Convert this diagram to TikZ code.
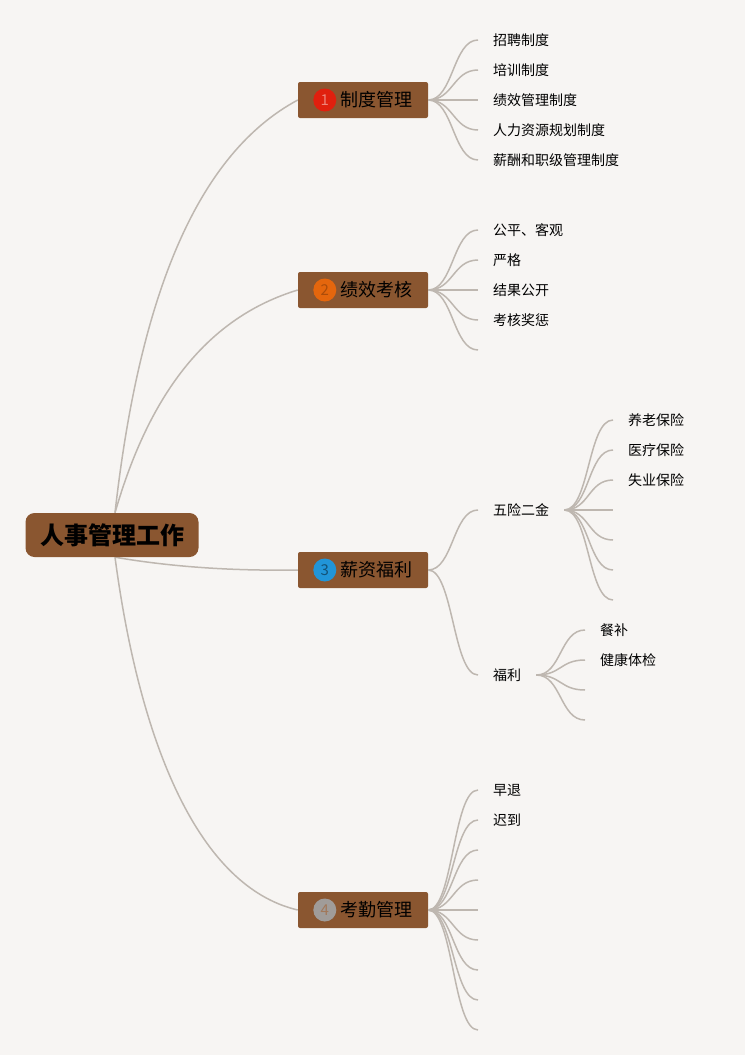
\documentclass[tikz,border=0pt]{standalone}
\usepackage{fontspec}
\setmainfont{Noto Sans CJK SC}
\usepackage{xcolor}
\usetikzlibrary{positioning}
\definecolor{paper}{HTML}{F7F5F3}
\definecolor{boxbrown}{HTML}{8A5630}
\definecolor{linkgray}{HTML}{BEB7B0}
\definecolor{numred}{HTML}{E0200E}
\definecolor{numorange}{HTML}{E4660D}
\definecolor{numblue}{HTML}{2195D8}
\definecolor{numgray}{HTML}{A09C99}
\pgfdeclarelayer{back}
\pgfsetlayers{back,main}

\begin{document}
\begin{tikzpicture}[x=1pt,y=-1pt,
  rootbox/.style={fill=boxbrown, rounded corners=9pt, minimum width=173pt, minimum height=44pt, inner sep=0pt, font=\fontsize{24}{26}\selectfont\bfseries},
  topicbox/.style={fill=boxbrown, rounded corners=2pt, minimum width=130pt, minimum height=36pt, inner sep=0pt, font=\fontsize{18}{20}\selectfont},
  numdot/.style={circle, fill=#1, minimum size=23pt, inner sep=0pt, font=\fontsize{15}{15}\selectfont},
  leaf/.style={anchor=west, inner xsep=15pt, inner ysep=2pt, font=\fontsize{14}{17}\selectfont},
  link/.style={draw=linkgray, line width=1.5pt}]

% root and main topics
\node[rootbox] (root) at (112,535) {人事管理工作};
\coordinate (rtop) at ([xshift=3pt]root.north);
\coordinate (rbot) at ([xshift=3pt]root.south);
\node[topicbox] (zhidu) at (363,100) {\hspace*{26pt}制度管理};
\node[numdot=numred, text=numred!55!white] at ([xshift=27pt]zhidu.west) {1};
\node[topicbox] (kaohe) at (363,290) {\hspace*{26pt}绩效考核};
\node[numdot=numorange, text=numorange!75!black] at ([xshift=27pt]kaohe.west) {2};
\node[topicbox] (xinzi) at (363,570) {\hspace*{26pt}薪资福利};
\node[numdot=numblue, text=numblue!55!black] at ([xshift=27pt]xinzi.west) {3};
\node[topicbox] (kaoqin) at (363,910) {\hspace*{26pt}考勤管理};
\node[numdot=numgray, text=boxbrown!80!white] at ([xshift=27pt]kaoqin.west) {4};

\begin{pgfonlayer}{back}
\fill[paper] (0,0) rectangle (745,1055);
\draw[link] (rtop) .. controls (140,291) and (199,153) .. (zhidu.west);
\draw[link] (rtop) .. controls (150,391) and (209,317) .. (kaohe.west);
\draw[link] (rbot) .. controls (172,567) and (233,571) .. (xinzi.west);
\draw[link] (rbot) .. controls (140,745) and (199,887) .. (kaoqin.west);
\end{pgfonlayer}

% 制度管理
\foreach \nm/\yy/\txt in {zhaopin/40/招聘制度, peixun/70/培训制度, jixiao/100/绩效管理制度, renli/130/人力资源规划制度, xinchou/160/薪酬和职级管理制度}{
  \node[leaf] (\nm) at (478,\yy) {\raisebox{-1pt}{\txt}};
  \draw[link] (zhidu.east) .. controls ([xshift=25pt]zhidu.east) and ([xshift=-25pt]\nm.west) .. (\nm.west);
}

% 绩效考核
\foreach \nm/\yy/\txt in {gongping/230/公平、客观, yange/260/严格, jieguo/290/结果公开, jiangcheng/320/考核奖惩}{
  \node[leaf] (\nm) at (478,\yy) {\raisebox{-1pt}{\txt}};
  \draw[link] (kaohe.east) .. controls ([xshift=25pt]kaohe.east) and ([xshift=-25pt]\nm.west) .. (\nm.west);
}
\coordinate (kh5) at (478,350);
\draw[link] (kaohe.east) .. controls ([xshift=25pt]kaohe.east) and ([xshift=-25pt]kh5) .. (kh5);

% 薪资福利
\node[leaf] (wuxian) at (478,510) {\raisebox{-1pt}{五险二金}};
\node[leaf] (fuli) at (478,675) {\raisebox{-1pt}{福利}};
\foreach \nm in {wuxian, fuli}
  \draw[link] (xinzi.east) .. controls ([xshift=25pt]xinzi.east) and ([xshift=-25pt]\nm.west) .. (\nm.west);

\foreach \nm/\yy/\txt in {yanglao/420/养老保险, yiliao/450/医疗保险, shiye/480/失业保险}{
  \node[leaf] (\nm) at (613,\yy) {\raisebox{-1pt}{\txt}};
  \draw[link] (wuxian.east) .. controls ([xshift=25pt]wuxian.east) and ([xshift=-25pt]\nm.west) .. (\nm.west);
}
\foreach \yy in {510,540,570,600}{
  \coordinate (wx\yy) at (613,\yy);
  \draw[link] (wuxian.east) .. controls ([xshift=25pt]wuxian.east) and ([xshift=-25pt]wx\yy) .. (wx\yy);
}

\foreach \nm/\yy/\txt in {canbu/630/餐补, tijian/660/健康体检}{
  \node[leaf] (\nm) at (585,\yy) {\raisebox{-1pt}{\txt}};
  \draw[link] (fuli.east) .. controls ([xshift=25pt]fuli.east) and ([xshift=-25pt]\nm.west) .. (\nm.west);
}
\foreach \yy in {690,720}{
  \coordinate (fl\yy) at (585,\yy);
  \draw[link] (fuli.east) .. controls ([xshift=25pt]fuli.east) and ([xshift=-25pt]fl\yy) .. (fl\yy);
}

% 考勤管理
\foreach \nm/\yy/\txt in {zaotui/790/早退, chidao/820/迟到}{
  \node[leaf] (\nm) at (478,\yy) {\raisebox{-1pt}{\txt}};
  \draw[link] (kaoqin.east) .. controls ([xshift=25pt]kaoqin.east) and ([xshift=-25pt]\nm.west) .. (\nm.west);
}
\foreach \yy in {850,880,...,1030}{
  \coordinate (kq\yy) at (478,\yy);
  \draw[link] (kaoqin.east) .. controls ([xshift=25pt]kaoqin.east) and ([xshift=-25pt]kq\yy) .. (kq\yy);
}
\end{tikzpicture}
\end{document}
